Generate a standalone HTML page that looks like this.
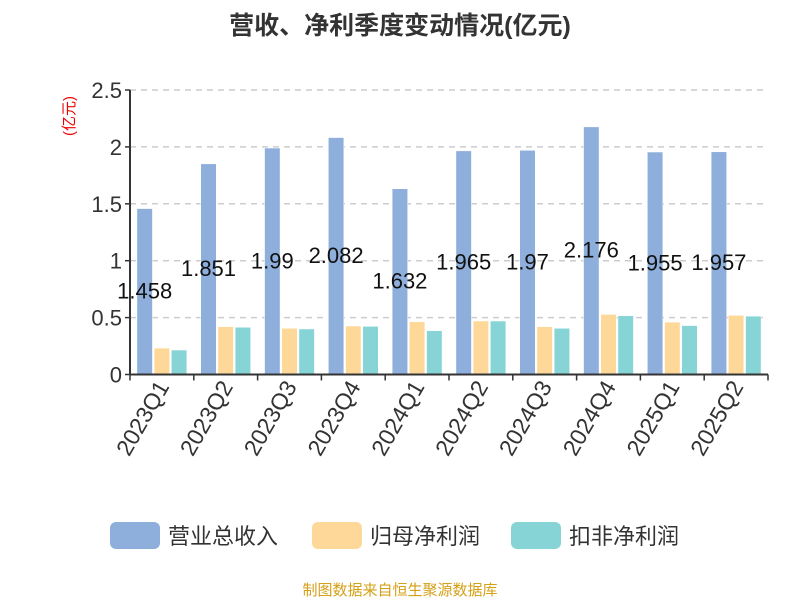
<!DOCTYPE html>
<html><head><meta charset="utf-8"><style>
body{margin:0;background:#fff;font-family:"Liberation Sans","Noto Sans CJK SC",sans-serif}
</style></head><body>
<svg width="800" height="600" xmlns="http://www.w3.org/2000/svg" font-family="Liberation Sans, Noto Sans CJK SC, sans-serif">
<text x="400" y="34" text-anchor="middle" font-size="25" font-weight="bold" fill="#333">营收、净利季度变动情况(亿元)</text>
<text transform="translate(74,116) rotate(-90)" text-anchor="middle" font-size="15" fill="#e00">(亿元)</text>
<g id="grid"></g><g id="bars"></g><g id="axes"></g>
<g>
<rect x="110" y="522" width="50" height="27" rx="6" fill="#8eaedb"/>
<text x="168" y="544" font-size="22" fill="#333">营业总收入</text>
<rect x="312" y="522" width="50" height="27" rx="6" fill="#fed898"/>
<text x="370" y="544" font-size="22" fill="#333">归母净利润</text>
<rect x="511" y="522" width="50" height="27" rx="6" fill="#86d4d6"/>
<text x="569" y="544" font-size="22" fill="#333">扣非净利润</text>
</g>
<text x="400" y="595" text-anchor="middle" font-size="15" fill="#d4a017">制图数据来自恒生聚源数据库</text>
</svg>
<script>
const categories=["2023Q1","2023Q2","2023Q3","2023Q4","2024Q1","2024Q2","2024Q3","2024Q4","2025Q1","2025Q2"];
const revenue=[1.458,1.851,1.99,2.082,1.632,1.965,1.97,2.176,1.955,1.957];
const revenueLabels=["1.458","1.851","1.99","2.082","1.632","1.965","1.97","2.176","1.955","1.957"];
const netProfit=[0.232,0.42,0.406,0.426,0.463,0.47,0.42,0.528,0.46,0.52];
const deducted=[0.215,0.415,0.40,0.423,0.385,0.47,0.406,0.516,0.43,0.513];
const yTicks=[0,0.5,1,1.5,2,2.5];
const yTickLabels=["0","0.5","1","1.5","2","2.5"];
const NS="http://www.w3.org/2000/svg";
const x0=130,x1=768,y0=374.5,yTop=90,yMax=2.5;
const cw=(x1-x0)/categories.length;
const ys=v=>y0-(y0-yTop)*v/yMax;
function mk(t,a,p){const e=document.createElementNS(NS,t);for(const k in a)e.setAttribute(k,a[k]);p.appendChild(e);return e;}
const grid=document.getElementById('grid'),bars=document.getElementById('bars'),axes=document.getElementById('axes');
yTicks.forEach((v,i)=>{
 if(v>0){const l=mk('line',{x1:x0,x2:x1,y1:ys(v),y2:ys(v),stroke:'#ccc','stroke-width':1.5,'stroke-dasharray':'6,5'},grid);
 }
 const t=mk('text',{x:x0-8,y:ys(v)+8,'text-anchor':'end','font-size':22,fill:'#333'},axes);t.textContent=yTickLabels[i];
 
 mk('line',{x1:x0-5,x2:x0,y1:ys(v),y2:ys(v),stroke:'#333','stroke-width':1.5},axes);
});
const bw=15.5,gap=1.7,series=[[revenue,'#8eaedb','bar-revenue'],[netProfit,'#fed898','bar-net-profit'],[deducted,'#86d4d6','bar-deducted']];
categories.forEach((c,i)=>{
 const gs=x0+i*cw+(cw-(3*bw+2*gap))/2;
 series.forEach((s,j)=>{
  const v=s[0][i];const r=mk('rect',{x:gs+j*(bw+gap),y:ys(v),width:bw,height:y0-ys(v),fill:s[1],stroke:'#fff','stroke-width':0.5},bars);
  
 });
 const t=mk('text',{x:gs+bw/2,y:ys(revenue[i]/2)+7,'text-anchor':'middle','font-size':22,fill:'#111'},bars);t.textContent=revenueLabels[i];
 
 const cx=x0+(i+0.5)*cw;
 const xl=mk('text',{transform:`translate(${cx+8},${y0+12}) rotate(-60)`,'text-anchor':'end','font-size':23,fill:'#333'},axes);xl.textContent=c;
 
});
for(let i=0;i<=categories.length;i++)mk('line',{x1:x0+i*cw,x2:x0+i*cw,y1:y0,y2:y0+6,stroke:'#333','stroke-width':1.5},axes);
const xa=mk('line',{x1:x0,x2:x1,y1:y0,y2:y0,stroke:'#333','stroke-width':2},axes);

const ya=mk('line',{x1:x0,x2:x0,y1:yTop,y2:y0,stroke:'#333','stroke-width':2},axes);

</script>
</body></html>
